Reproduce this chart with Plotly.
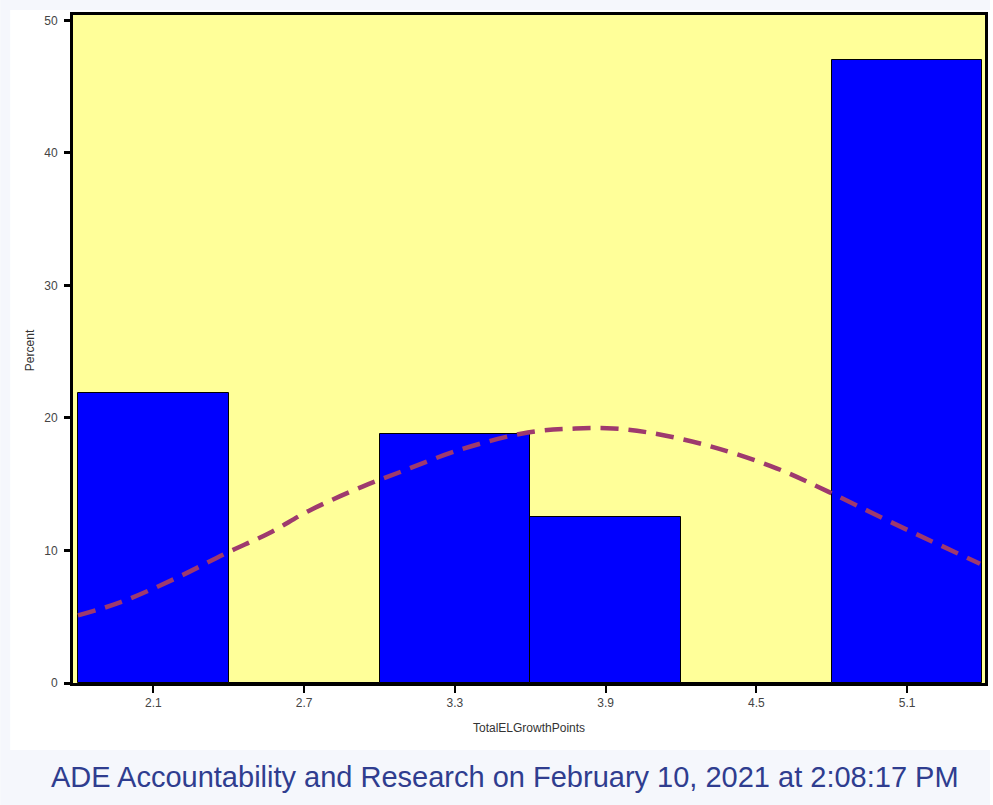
import plotly.graph_objects as go

# ---- data ----
bin_centers = [2.1, 2.7, 3.3, 3.9, 4.5, 5.1]
bin_percent = [21.9, 0.0, 18.8, 12.5, 0.0, 47.0]
bin_width = 0.6

curve_x = [1.80, 1.97, 2.20, 2.39, 2.56, 2.72, 2.93, 3.08, 3.32, 3.59, 3.78,
           3.93, 4.07, 4.31, 4.58, 4.79, 5.04, 5.39]
curve_y = [5.1, 6.1, 8.0, 9.8, 11.3, 13.0, 14.8, 15.9, 17.6, 18.9, 19.2,
           19.2, 18.9, 17.9, 16.2, 14.4, 12.1, 9.0]

x_ticks = [2.1, 2.7, 3.3, 3.9, 4.5, 5.1]
x_tick_text = ["2.1", "2.7", "3.3", "3.9", "4.5", "5.1"]
y_ticks = [0, 10, 20, 30, 40, 50]

x_title = "TotalELGrowthPoints"
y_title = "Percent"
footer = "ADE Accountability and Research on February 10, 2021 at 2:08:17 PM"

W, H = 993, 805
L, R, T, B = 73, 5, 15, 122
pw, ph = W - L - R, H - T - B

def px_x(p):
    return (p - L) / pw

def px_y(p):
    return (H - B - p) / ph

fig = go.Figure()
fig.add_trace(go.Bar(
    x=bin_centers, y=bin_percent, width=[bin_width] * len(bin_centers),
    marker=dict(color="#0000ff", line=dict(color="#000000", width=1)),
    hoverinfo="x+y", showlegend=False,
))
fig.add_trace(go.Scatter(
    x=curve_x, y=curve_y, mode="lines",
    line=dict(color="#9e3a6e", width=4.5, dash="18px,10px", shape="spline"),
    showlegend=False,
))

axis_font = dict(family="Liberation Sans, Arial, sans-serif", size=12, color="#444444")

fig.update_layout(
    width=W, height=H,
    margin=dict(l=L, r=R, t=T, b=B, pad=0),
    paper_bgcolor="#ffffff",
    plot_bgcolor="#ffff99",
    bargap=0,
    xaxis=dict(
        range=[1.78, 5.41], tickvals=x_ticks, ticktext=x_tick_text,
        showgrid=False, zeroline=False,
        showline=True, linecolor="#000000", linewidth=3, mirror=True,
        ticks="outside", ticklen=7, tickwidth=2, tickcolor="#000000",
        tickfont=axis_font,
    ),
    yaxis=dict(
        range=[0, 50.4], tickvals=y_ticks,
        showgrid=False, zeroline=False,
        showline=True, linecolor="#000000", linewidth=3, mirror=True,
        ticks="outside", ticklen=6, tickwidth=3, tickcolor="#000000",
        tickfont=axis_font, ticklabelstandoff=4,
    ),
    annotations=[
        dict(text=x_title, x=px_x(530), y=px_y(728), xref="paper", yref="paper",
             showarrow=False, xanchor="center", yanchor="middle",
             font=dict(family="Liberation Sans, Arial, sans-serif", size=12, color="#333333")),
        dict(text=y_title, x=px_x(30), y=px_y(350), xref="paper", yref="paper",
             showarrow=False, xanchor="center", yanchor="middle", textangle=-90,
             font=dict(family="Liberation Sans, Arial, sans-serif", size=12, color="#333333")),
        dict(text=footer, x=px_x(506), y=px_y(777), xref="paper", yref="paper",
             showarrow=False, xanchor="center", yanchor="middle",
             font=dict(family="Liberation Sans, Arial, sans-serif", size=29, color="#2f3d8f")),
    ],
    shapes=[
        dict(type="rect", xref="paper", yref="paper", layer="below",
             x0=px_x(0), x1=px_x(W), y0=px_y(H), y1=px_y(750),
             fillcolor="#f5f7fc", line=dict(width=0)),
        dict(type="rect", xref="paper", yref="paper", layer="below",
             x0=px_x(0), x1=px_x(W), y0=px_y(10), y1=px_y(0),
             fillcolor="#f5f7fc", line=dict(width=0)),
        dict(type="rect", xref="paper", yref="paper", layer="below",
             x0=px_x(0), x1=px_x(10), y0=px_y(750), y1=px_y(10),
             fillcolor="#f5f7fc", line=dict(width=0)),
    ],
)

fig.write_html(
    "out.html",
    config={"displayModeBar": False},
    post_script="document.body.style.margin='0';document.body.style.overflow='hidden';",
)
